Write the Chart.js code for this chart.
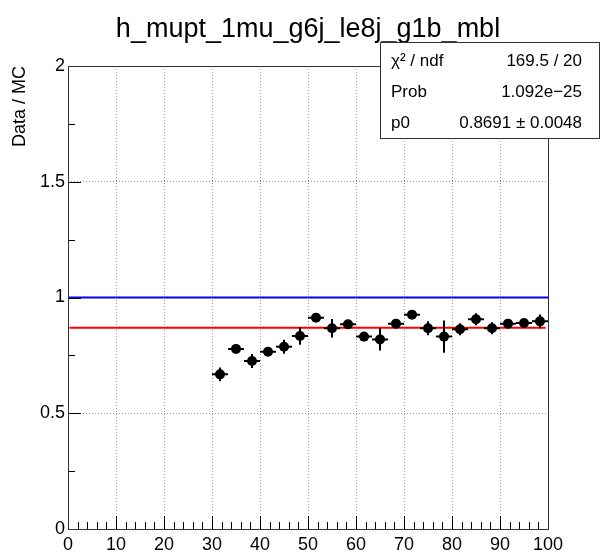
<!DOCTYPE html>
<html>
<head>
<meta charset="utf-8">
<script src="https://cdn.jsdelivr.net/npm/chart.js@4/dist/chart.umd.min.js"></script>
<style>
  html, body { margin: 0; padding: 0; background: #fff; }
  #wrap { width: 601px; height: 554px; }
</style>
</head>
<body>
<div id="wrap"><canvas id="c" width="601" height="554"></canvas></div>
<script>
// ---- data ----
const chartTitle = 'h_mupt_1mu_g6j_le8j_g1b_mbl';
const yAxisTitle = 'Data / MC';
const binCenters = [31.67, 35, 38.33, 41.67, 45, 48.33, 51.67, 55, 58.33, 61.67, 65, 68.33, 71.67, 75, 78.33, 81.67, 85, 88.33, 91.67, 95, 98.33];
const ratio      = [0.668, 0.778, 0.726, 0.766, 0.787, 0.834, 0.913, 0.867, 0.884, 0.831, 0.819, 0.887, 0.926, 0.867, 0.831, 0.863, 0.906, 0.867, 0.887, 0.890, 0.897];
const ratioErr   = [0.030, 0.008, 0.030, 0.020, 0.030, 0.038, 0.010, 0.040, 0.010, 0.020, 0.048, 0.020, 0.008, 0.030, 0.070, 0.026, 0.026, 0.026, 0.020, 0.008, 0.030];
const binHalfWidth = 1.667;
const unityLine = [0, 100];
const fitValue = 0.8691;
const fitRange = [0.3, 99.5];
const xTickValues = [0, 10, 20, 30, 40, 50, 60, 70, 80, 90, 100];
const yTickLabels = ['0', '0.5', '1', '1.5', '2'];
const statsLabels = ['\u03C7\u00B2 / ndf', 'Prob', 'p0'];
const statsValues = ['169.5 / 20', '1.092e\u221225', '0.8691 \u00B1 0.0048'];

const FONT = '"Liberation Sans", Arial, Helvetica, sans-serif';

const points = binCenters.map((x, i) => ({ x: x, y: ratio[i] }));

const rootPlugin = {
  id: 'rootStyle',
  beforeDatasetDraw(chart, args) {
    if (args.index !== 0) return;
    const xs = chart.scales.x, ys = chart.scales.y, ctx = chart.ctx;
    ctx.save();
    ctx.strokeStyle = '#000';
    ctx.lineWidth = 2;
    for (let i = 0; i < binCenters.length; i++) {
      const px = xs.getPixelForValue(binCenters[i]);
      const py = ys.getPixelForValue(ratio[i]);
      ctx.beginPath();
      ctx.moveTo(xs.getPixelForValue(binCenters[i] - binHalfWidth), py);
      ctx.lineTo(xs.getPixelForValue(binCenters[i] + binHalfWidth), py);
      ctx.moveTo(px, ys.getPixelForValue(ratio[i] - ratioErr[i]));
      ctx.lineTo(px, ys.getPixelForValue(ratio[i] + ratioErr[i]));
      ctx.stroke();
    }
    ctx.restore();
  },
  afterDraw(chart) {
    const ctx = chart.ctx, a = chart.chartArea;
    const xs = chart.scales.x, ys = chart.scales.y;
    ctx.save();
    // inward tick marks
    ctx.strokeStyle = '#000';
    ctx.lineWidth = 1;
    ctx.beginPath();
    for (let v = 0; v <= 100; v += 2) {
      const px = Math.round(xs.getPixelForValue(v)) + 0.5;
      const len = (v % 10 === 0) ? 13 : 7;
      ctx.moveTo(px, a.bottom);
      ctx.lineTo(px, a.bottom - len);
    }
    for (let k = 0; k <= 8; k++) {
      const v = k * 0.25;
      const py = Math.round(ys.getPixelForValue(v)) + 0.5;
      const len = (k % 2 === 0) ? 13 : 7;
      ctx.moveTo(a.left, py);
      ctx.lineTo(a.left + len, py);
    }
    ctx.stroke();
    // frame
    ctx.strokeStyle = '#333';
    ctx.strokeRect(Math.round(a.left) + 0.5, Math.round(a.top) + 0.5,
                   Math.round(a.right - a.left), Math.round(a.bottom - a.top));
    // title
    ctx.fillStyle = '#000';
    ctx.font = '27px ' + FONT;
    ctx.textAlign = 'center';
    ctx.textBaseline = 'alphabetic';
    ctx.fillText(chartTitle, 308, 37);
    // stats box
    const bx = 380.5, by = 42.5, bw = 219, bh = 96;
    ctx.fillStyle = '#fff';
    ctx.fillRect(bx, by, bw, bh);
    ctx.strokeStyle = '#333';
    ctx.strokeRect(bx, by, bw, bh);
    ctx.fillStyle = '#000';
    ctx.font = '17px ' + FONT;
    ctx.textBaseline = 'middle';
    const rowsY = [61, 92, 123];
    for (let i = 0; i < statsLabels.length; i++) {
      ctx.textAlign = 'left';
      ctx.fillText(statsLabels[i], 391, rowsY[i]);
      ctx.textAlign = 'right';
      ctx.fillText(statsValues[i], 582, rowsY[i]);
    }
    ctx.restore();
  }
};

new Chart(document.getElementById('c'), {
  type: 'scatter',
  data: {
    datasets: [
      {
        label: 'ratio',
        data: points,
        order: 0,
        pointRadius: 5,
        pointHoverRadius: 5,
        pointBackgroundColor: '#000',
        pointBorderColor: '#000',
        pointBorderWidth: 0,
        showLine: false
      },
      {
        label: 'unity',
        data: unityLine.map(x => ({ x: x, y: 1 })),
        order: 1,
        showLine: true,
        borderColor: '#0000ff',
        borderWidth: 2,
        pointRadius: 0
      },
      {
        label: 'fit',
        data: fitRange.map(x => ({ x: x, y: fitValue })),
        order: 2,
        showLine: true,
        borderColor: '#ff0000',
        borderWidth: 2,
        pointRadius: 0
      }
    ]
  },
  options: {
    responsive: false,
    animation: false,
    events: [],
    layout: { padding: { top: 66, right: 53, left: 0, bottom: 0 } },
    plugins: { legend: { display: false }, tooltip: { enabled: false }, title: { display: false } },
    scales: {
      x: {
        type: 'linear',
        min: 0, max: 100,
        afterFit(s) { s.height = 25; },
        afterBuildTicks(s) { s.ticks = xTickValues.map(v => ({ value: v })); },
        ticks: {
          autoSkip: false, maxRotation: 0, minRotation: 0,
          color: '#000', padding: 5,
          font: { family: FONT, size: 18 },
          callback: (v) => String(v)
        },
        grid: {
          drawTicks: false,
          color: (c) => (c.tick && c.tick.value > 0 && c.tick.value < 100) ? '#999' : 'rgba(0,0,0,0)',
          lineWidth: 1
        },
        border: { display: false, dash: [1, 2] }
      },
      y: {
        type: 'linear',
        min: 0, max: 2,
        afterFit(s) { s.width = 68; },
        ticks: {
          stepSize: 0.5, autoSkip: false,
          color: '#000', padding: 3,
          font: { family: FONT, size: 18 },
          callback: (v, i) => yTickLabels[i]
        },
        grid: {
          drawTicks: false,
          color: (c) => (c.tick && c.tick.value > 0 && c.tick.value < 2) ? '#999' : 'rgba(0,0,0,0)',
          lineWidth: 1
        },
        border: { display: false, dash: [1, 2] },
        title: {
          display: true, text: yAxisTitle, align: 'end',
          color: '#000', font: { family: FONT, size: 18 },
          padding: { top: 9, bottom: 0 }
        }
      }
    }
  },
  plugins: [rootPlugin]
});
</script>
</body>
</html>
